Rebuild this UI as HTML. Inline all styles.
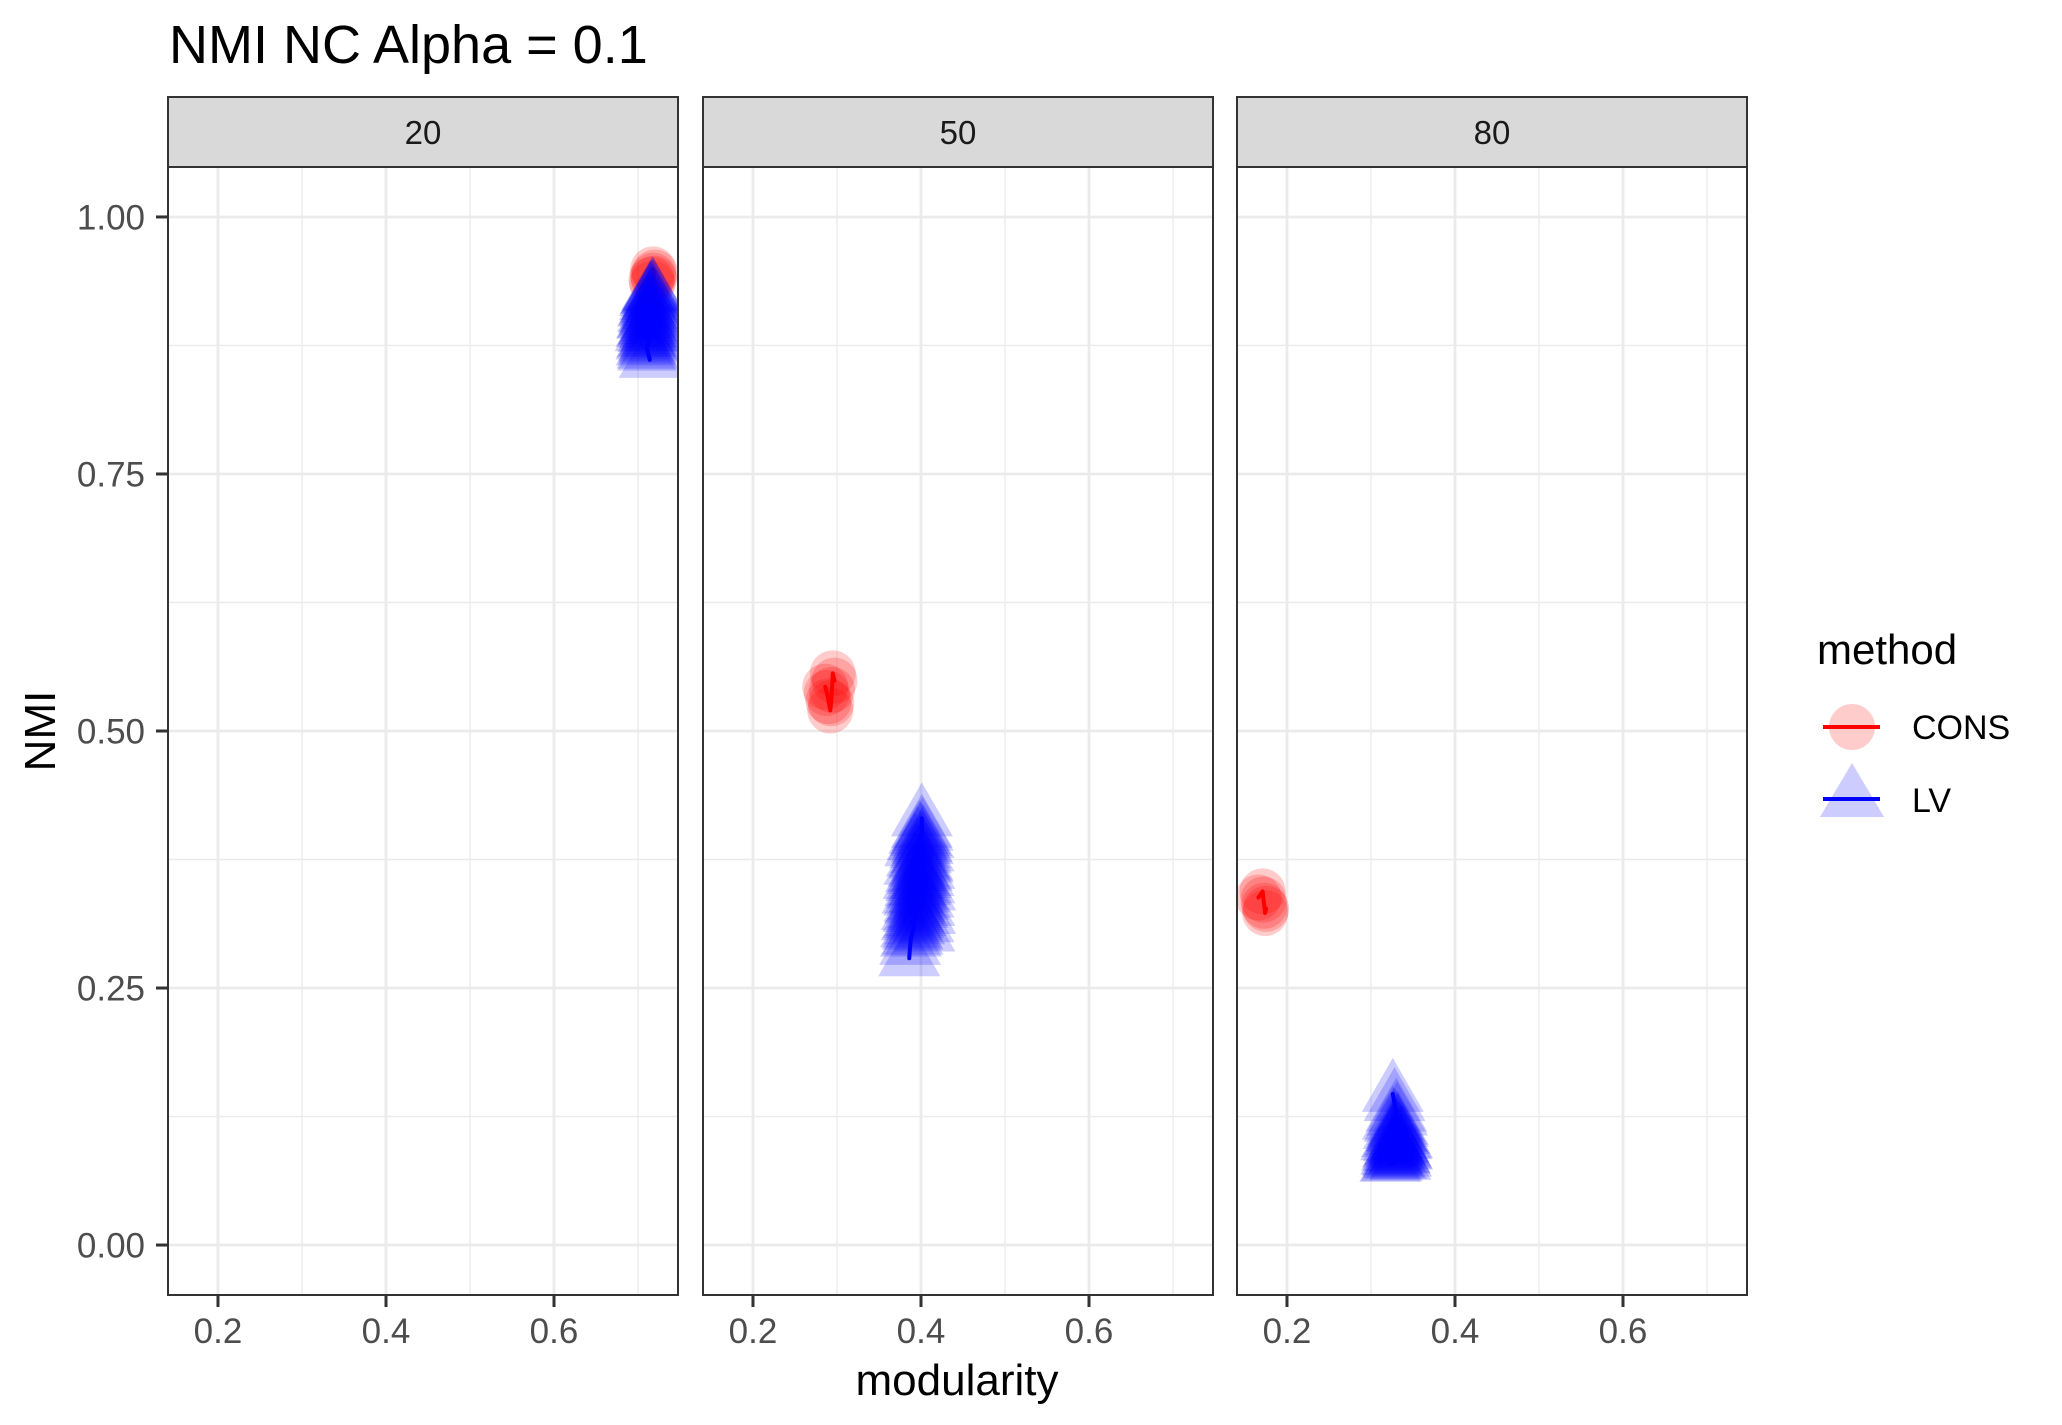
<!DOCTYPE html>
<html><head><meta charset="utf-8">
<style>
html,body{margin:0;padding:0;background:#fff;}
svg{display:block;font-family:"Liberation Sans",Arial,sans-serif;}
</style></head>
<body>
<svg id="chart" width="2062" height="1425" viewBox="0 0 2062 1425" xmlns="http://www.w3.org/2000/svg">
<rect width="2062" height="1425" fill="#fff"/>
<text x="169" y="63" font-size="54" fill="#000">NMI NC Alpha = 0.1</text>
<text x="957" y="1395" font-size="44" text-anchor="middle" fill="#000">modularity</text>
<text transform="translate(55,731) rotate(-90)" font-size="44" text-anchor="middle" fill="#000">NMI</text>
<g id="panels"></g>
<g>
  <text x="1817" y="664" font-size="42" fill="#000">method</text>
  <g>
    <circle cx="1852" cy="727" r="23" fill="rgba(255,0,0,0.2)"/>
    <line x1="1823" y1="727" x2="1880" y2="727" stroke="#f00" stroke-width="4"/>
    <text x="1912" y="739" font-size="34" fill="#000">CONS</text>
  </g>
  <g>
    <polygon points="1852,763 1820,817 1884,817" fill="rgba(0,0,255,0.2)"/>
    <line x1="1823" y1="799" x2="1880" y2="799" stroke="#00f" stroke-width="4"/>
    <text x="1912" y="812" font-size="34" fill="#000">LV</text>
  </g>
</g>
</svg>
<script>
// ---- data ----
const facets = ["20", "50", "80"];
const xTicks = [0.2, 0.4, 0.6];
const xTickLabels = ["0.2", "0.4", "0.6"];
const xMinor = [0.3, 0.5, 0.7];
const yTicks = [0, 0.25, 0.5, 0.75, 1];
const yTickLabels = ["0.00", "0.25", "0.50", "0.75", "1.00"];
const yMinor = [0.125, 0.375, 0.625, 0.875];

const cons20X = [0.716, 0.717, 0.719, 0.718, 0.720, 0.718];
const cons20Y = [0.939, 0.935, 0.940, 0.943, 0.946, 0.949];
const lv20X = [0.714, 0.712, 0.710, 0.713, 0.711, 0.715, 0.709, 0.714, 0.712, 0.716, 0.711, 0.715, 0.713, 0.717, 0.712, 0.716, 0.714, 0.718, 0.715, 0.718,
  0.711, 0.713, 0.710, 0.714, 0.712, 0.716, 0.710, 0.713, 0.715, 0.711, 0.714, 0.712, 0.716, 0.713, 0.715, 0.717, 0.714, 0.716, 0.718, 0.717];
const lv20Y = [0.861, 0.868, 0.873, 0.877, 0.881, 0.884, 0.887, 0.890, 0.893, 0.896, 0.899, 0.902, 0.905, 0.908, 0.911, 0.914, 0.917, 0.920, 0.923, 0.926,
  0.870, 0.875, 0.879, 0.882, 0.886, 0.888, 0.891, 0.894, 0.897, 0.900, 0.903, 0.906, 0.909, 0.912, 0.915, 0.918, 0.921, 0.924, 0.925, 0.927];

const cons50X = [0.286, 0.288, 0.290, 0.292, 0.293, 0.294, 0.295, 0.297];
const cons50Y = [0.543, 0.537, 0.529, 0.520, 0.527, 0.540, 0.556, 0.549];
const lv50X = [0.386, 0.387, 0.388, 0.390, 0.392, 0.389, 0.394, 0.391, 0.396, 0.393, 0.397, 0.392, 0.398, 0.395, 0.399, 0.394, 0.400, 0.396, 0.401, 0.397, 0.402, 0.398, 0.400, 0.399, 0.401, 0.400, 0.401, 0.401,
  0.390, 0.404, 0.388, 0.403, 0.391, 0.405, 0.389, 0.404, 0.392, 0.403, 0.390, 0.405, 0.393, 0.404, 0.391, 0.403, 0.394, 0.404, 0.392, 0.402, 0.395, 0.403, 0.393, 0.402, 0.396, 0.403, 0.398, 0.402, 0.399, 0.401];
const lv50Y = [0.279, 0.290, 0.298, 0.305, 0.310, 0.314, 0.318, 0.322, 0.326, 0.330, 0.334, 0.338, 0.341, 0.345, 0.348, 0.352, 0.355, 0.359, 0.362, 0.366, 0.370, 0.374, 0.379, 0.384, 0.390, 0.396, 0.404, 0.415,
  0.300, 0.303, 0.307, 0.312, 0.316, 0.320, 0.324, 0.328, 0.332, 0.336, 0.340, 0.343, 0.347, 0.350, 0.354, 0.357, 0.361, 0.364, 0.368, 0.372, 0.376, 0.381, 0.386, 0.388, 0.392, 0.394, 0.398, 0.401];

const cons80X = [0.166, 0.171, 0.172, 0.173, 0.174, 0.175];
const cons80Y = [0.338, 0.344, 0.336, 0.330, 0.323, 0.327];
const lv80X = [0.323, 0.330, 0.326, 0.334, 0.325, 0.336, 0.328, 0.333, 0.324, 0.337, 0.329, 0.331, 0.327, 0.332, 0.326, 0.330, 0.328, 0.326,
  0.325, 0.335, 0.327, 0.336, 0.324, 0.334, 0.328, 0.337, 0.326, 0.335, 0.329, 0.333, 0.327, 0.336, 0.325, 0.334, 0.330, 0.332, 0.328, 0.331];
const lv80Y = [0.079, 0.082, 0.085, 0.087, 0.090, 0.092, 0.095, 0.097, 0.100, 0.102, 0.105, 0.108, 0.111, 0.115, 0.120, 0.128, 0.138, 0.147,
  0.080, 0.081, 0.083, 0.084, 0.086, 0.088, 0.089, 0.091, 0.093, 0.094, 0.096, 0.098, 0.099, 0.101, 0.103, 0.106, 0.109, 0.113, 0.118, 0.124];

const consXs = [cons20X, cons50X, cons80X];
const consYs = [cons20Y, cons50Y, cons80Y];
const lvXs = [lv20X, lv50X, lv80X];
const lvYs = [lv20Y, lv50Y, lv80Y];
const lvLineCounts = [20, 28, 18];

// ---- layout ----
const NS = "http://www.w3.org/2000/svg";
const panelLefts = [168, 703, 1237];
const panelW = 510;
const stripTop = 97, plotTop = 167, plotBottom = 1295;
const xMin = 0.1405, xMax = 0.7476, yMin = -0.0486, yMax = 1.0486;
function xScale(p, v) { return panelLefts[p] + (v - xMin) / (xMax - xMin) * panelW; }
function yScale(v) { return plotBottom - (v - yMin) / (yMax - yMin) * (plotBottom - plotTop); }
function mk(tag, attrs, parent) {
  const e = document.createElementNS(NS, tag);
  for (const k in attrs) e.setAttribute(k, attrs[k]);
  parent.appendChild(e);
  return e;
}
const root = document.getElementById("panels");
const defs = mk("defs", {}, root);

facets.forEach((f, p) => {
  const L = panelLefts[p], R = L + panelW;
  const g = mk("g", {}, root);
  
  
  const cp = mk("clipPath", { id: "clip" + p }, defs);
  mk("rect", { x: L, y: plotTop, width: panelW, height: plotBottom - plotTop }, cp);
  const strip = mk("rect", { x: L, y: stripTop, width: panelW, height: plotTop - stripTop, fill: "#d9d9d9", stroke: "#333", "stroke-width": 2 }, g);
  
  
  const st = mk("text", { x: L + panelW / 2, y: 144, "font-size": 33, "text-anchor": "middle", fill: "#1a1a1a" }, g);
  st.textContent = f;
  
  
  const grid = mk("g", {}, g);
  
  
  yMinor.forEach(v => mk("line", { x1: L, x2: R, y1: yScale(v), y2: yScale(v), stroke: "#ebebeb", "stroke-width": 1.4 }, grid));
  xMinor.forEach(v => { const x = xScale(p, v); if (x > L && x < R) mk("line", { x1: x, x2: x, y1: plotTop, y2: plotBottom, stroke: "#ebebeb", "stroke-width": 1.4 }, grid); });
  yTicks.forEach(v => mk("line", { x1: L, x2: R, y1: yScale(v), y2: yScale(v), stroke: "#ebebeb", "stroke-width": 2.8 }, grid));
  xTicks.forEach(v => mk("line", { x1: xScale(p, v), x2: xScale(p, v), y1: plotTop, y2: plotBottom, stroke: "#ebebeb", "stroke-width": 2.8 }, grid));
  const dg = mk("g", { "clip-path": "url(#clip" + p + ")" }, g);
  const cl = mk("polyline", { points: consXs[p].map((xv, i) => xScale(p, xv) + "," + yScale(consYs[p][i])).join(" "), fill: "none", stroke: "#f00", "stroke-width": 4, "stroke-linejoin": "round", "stroke-linecap": "round" }, dg);
  
  
  const ll = mk("polyline", { points: lvXs[p].slice(0, lvLineCounts[p]).map((xv, i) => xScale(p, xv) + "," + yScale(lvYs[p][i])).join(" "), fill: "none", stroke: "#00f", "stroke-width": 4, "stroke-linejoin": "round", "stroke-linecap": "round" }, dg);
  
  
  consXs[p].forEach((xv, i) => {
    const c = mk("circle", { cx: xScale(p, xv), cy: yScale(consYs[p][i]), r: 23, fill: "rgba(255,0,0,0.2)" }, dg);
    
    
  });
  lvXs[p].forEach((xv, i) => {
    const cx = xScale(p, xv), cy = yScale(lvYs[p][i]);
    const t = mk("polygon", { points: cx + "," + (cy - 36) + " " + (cx - 31) + "," + (cy + 18) + " " + (cx + 31) + "," + (cy + 18), fill: "rgba(0,0,255,0.2)" }, dg);
    
    
  });
  mk("rect", { x: L, y: plotTop, width: panelW, height: plotBottom - plotTop, fill: "none", stroke: "#333", "stroke-width": 2 }, g);
  const xa = mk("g", {}, g);
  
  
  xTicks.forEach((v, i) => {
    const x = xScale(p, v);
    mk("line", { x1: x, x2: x, y1: plotBottom, y2: plotBottom + 12, stroke: "#333", "stroke-width": 3 }, xa);
    const t = mk("text", { x: x, y: 1343, "font-size": 35, "text-anchor": "middle", fill: "#4d4d4d" }, xa);
    t.textContent = xTickLabels[i];
  });
});
const ya = mk("g", {}, root);


yTicks.forEach((v, i) => {
  const y = yScale(v);
  mk("line", { x1: 156, x2: 168, y1: y, y2: y, stroke: "#333", "stroke-width": 3 }, ya);
  const t = mk("text", { x: 145, y: y + 12.5, "font-size": 35, "text-anchor": "end", fill: "#4d4d4d" }, ya);
  t.textContent = yTickLabels[i];
});
</script>
</body></html>
